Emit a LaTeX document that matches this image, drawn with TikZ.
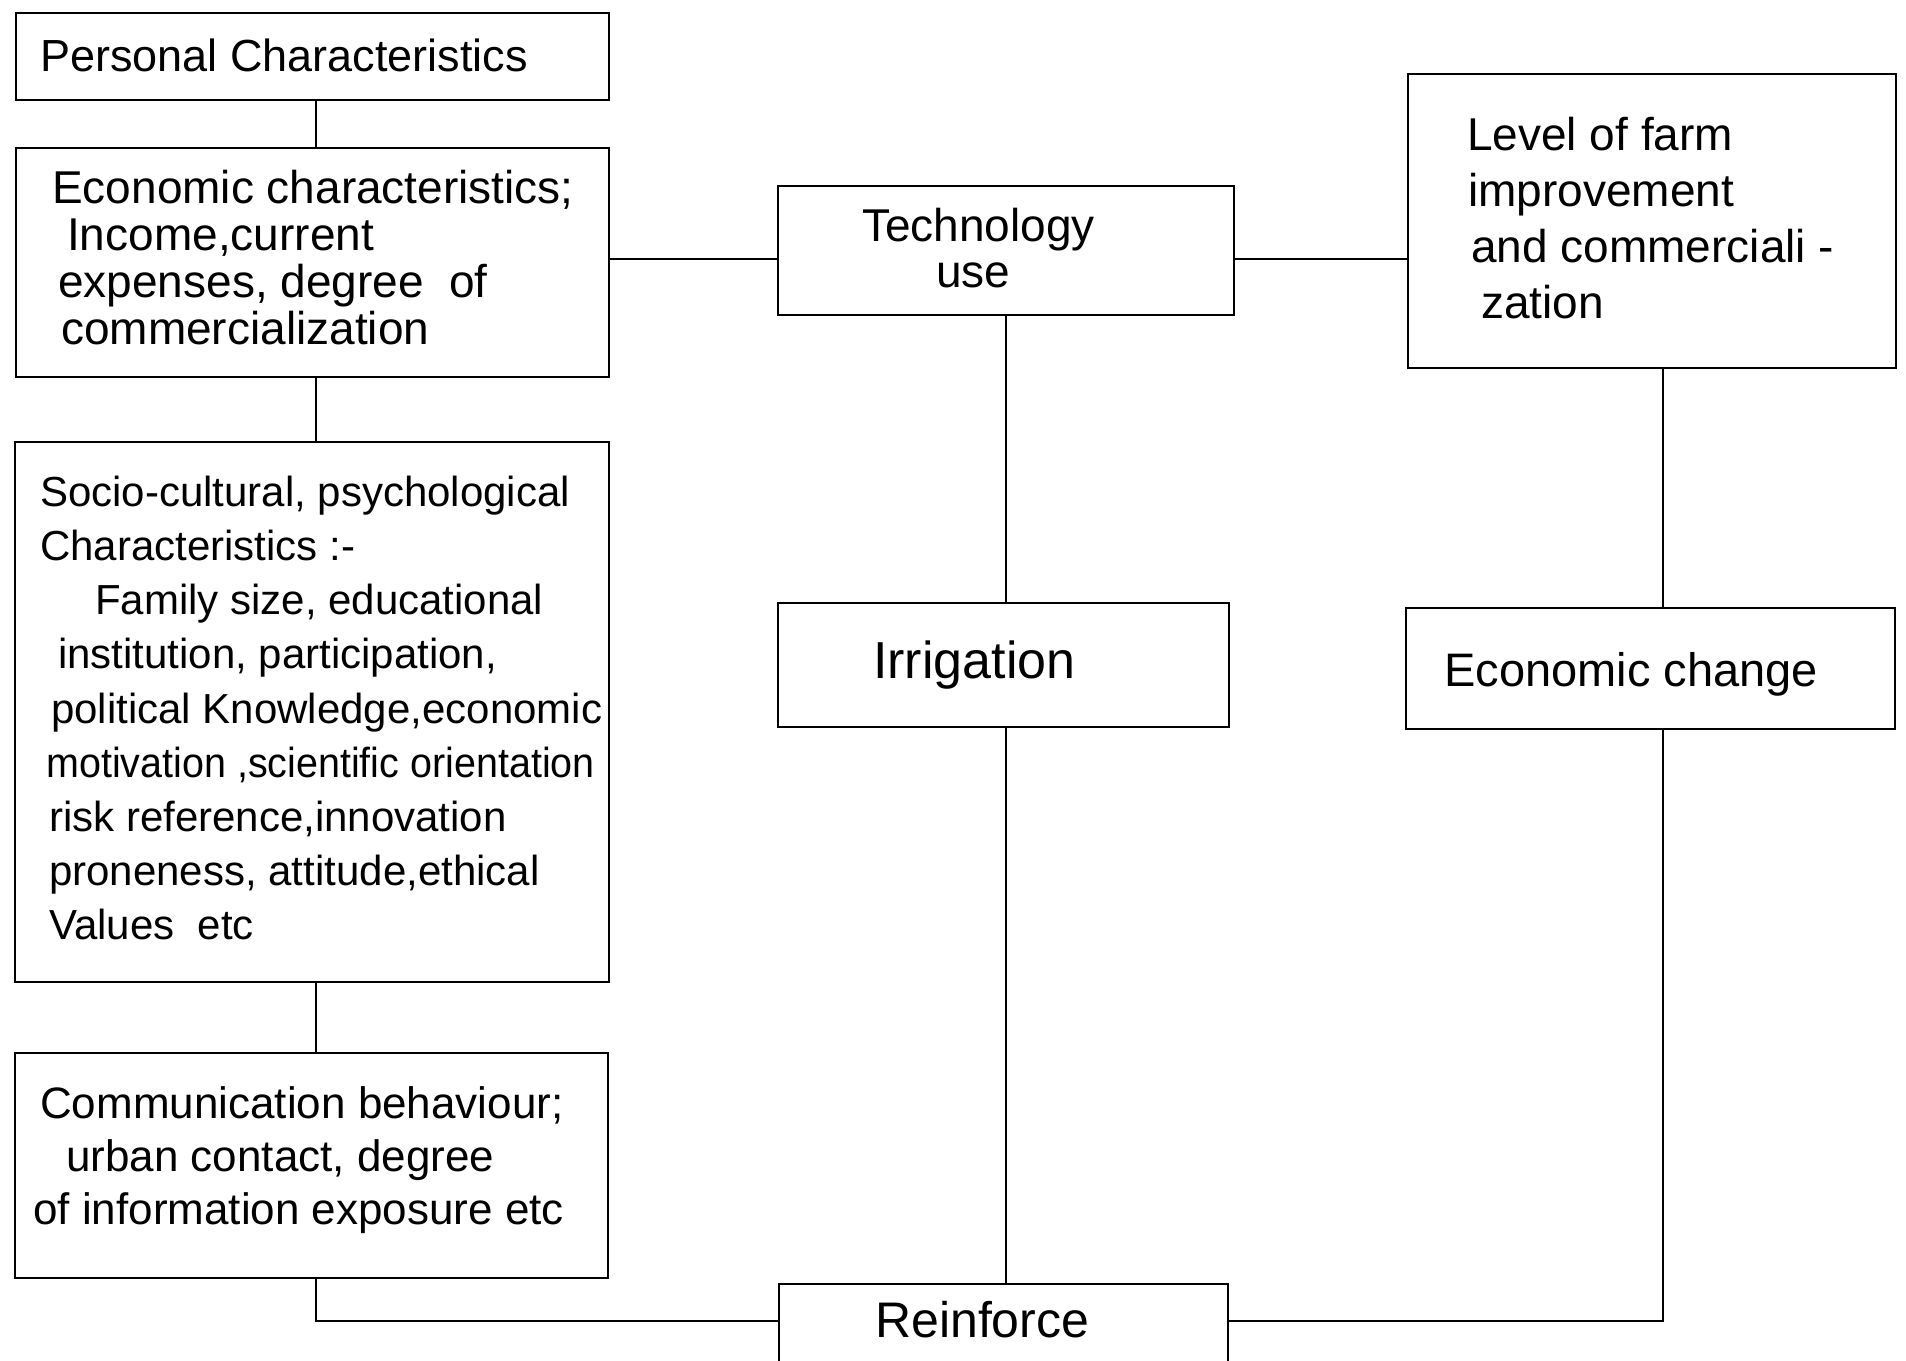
\documentclass[tikz,border=0pt]{standalone}
\usepackage{fontspec}
\setmainfont{Liberation Sans}
\usepackage{graphicx}
\usetikzlibrary{calc}
\begin{document}
\begin{tikzpicture}[x=1pt,y=-1pt,
  box/.style={draw,line width=2.6pt,rectangle,inner sep=0pt,anchor=center},
  txt/.style={anchor=west,align=left,inner sep=0pt},
  conn/.style={draw,line width=2.2pt}]
\useasboundingbox[fill=white] (0,0) rectangle (1906,1360);
% boxes
\node[box,minimum width=593pt,minimum height=87pt]  (personal) at (312.5,56.5) {};
\node[box,minimum width=593pt,minimum height=229pt] (econ)     at (312.5,262.5) {};
\node[box,minimum width=594pt,minimum height=540pt] (socio)    at (312,712) {};
\node[box,minimum width=593pt,minimum height=225pt] (comm)     at (311.5,1165.5) {};
\node[box,minimum width=456pt,minimum height=129pt] (tech)     at (1006,250.5) {};
\node[box,minimum width=451pt,minimum height=124pt] (irr)      at (1003.5,665) {};
\node[box,minimum width=449pt,minimum height=80pt]  (reinf)    at (1003.5,1324) {};
\node[box,minimum width=488pt,minimum height=294pt] (level)    at (1652,221) {};
\node[box,minimum width=489pt,minimum height=121pt] (echange)  at (1650.5,668.5) {};
% texts
\node[txt,font=\fontsize{45}{50}\selectfont] (personal-t) at (40,55) {Personal Characteristics};
\node[txt,font=\fontsize{46}{47}\selectfont] (econ-t) at (52,258)
  {Economic characteristics;\\\hspace*{15pt}Income,current\\\hspace*{6pt}expenses, degree\ \ of\\\hspace*{9pt}commercialization};
\node[txt,font=\fontsize{42}{54.2}\selectfont] (socio-t) at (40,708)
  {Socio-cultural, psychological\\Characteristics :-\\\hspace*{55pt}Family size, educational\\\hspace*{18pt}institution, participation,\\\hspace*{11pt}political Knowledge,economic\\\hspace*{6pt}\scalebox{0.94}[1]{motivation ,scientific orientation}\\\hspace*{9pt}risk reference,innovation\\\hspace*{9pt}proneness, attitude,ethical\\\hspace*{9pt}Values\ \ etc};
\node[txt,font=\fontsize{44}{53}\selectfont] (comm-t) at (33,1160)
  {\hspace*{7pt}Communication behaviour;\\\hspace*{33pt}urban contact, degree\\of information exposure etc};
\node[txt,font=\fontsize{46}{46}\selectfont] (tech-t) at (862,248) {Technology\\\hspace*{74pt}use};
\node[txt,font=\fontsize{52}{56}\selectfont] (irr-t) at (873,665) {Irrigation};
\node[txt,font=\fontsize{50}{56}\selectfont] (reinf-t) at (875,1320) {Reinforce};
\node[txt,font=\fontsize{46}{56}\selectfont] (level-t) at (1467,218)
  {Level of farm\\\hspace*{1pt}improvement\\\hspace*{4pt}and commerciali -\\\hspace*{14pt}zation};
\node[txt,font=\fontsize{47}{56}\selectfont] (echange-t) at (1444,674) {Economic change};
% guide coordinates
\coordinate (cl) at (316,0);
\coordinate (cm) at (1006,0);
\coordinate (cr) at (1663,0);
\coordinate (rowt) at (0,259);
\coordinate (rowb) at (0,1321);
% connectors
\draw[conn] (personal.south -| cl) -- (econ.north -| cl);
\draw[conn] (econ.south -| cl) -- (socio.north -| cl);
\draw[conn] (socio.south -| cl) -- (comm.north -| cl);
\draw[conn] (comm.south -| cl) |- (reinf.west |- rowb);
\draw[conn] (econ.east |- rowt) -- (tech.west |- rowt);
\draw[conn] (tech.east |- rowt) -- (level.west |- rowt);
\draw[conn] (tech.south -| cm) -- (irr.north -| cm);
\draw[conn] (irr.south -| cm) -- (reinf.north -| cm);
\draw[conn] (level.south -| cr) -- (echange.north -| cr);
\draw[conn] (reinf.east |- rowb) -| (echange.south -| cr);
\end{tikzpicture}
\end{document}
